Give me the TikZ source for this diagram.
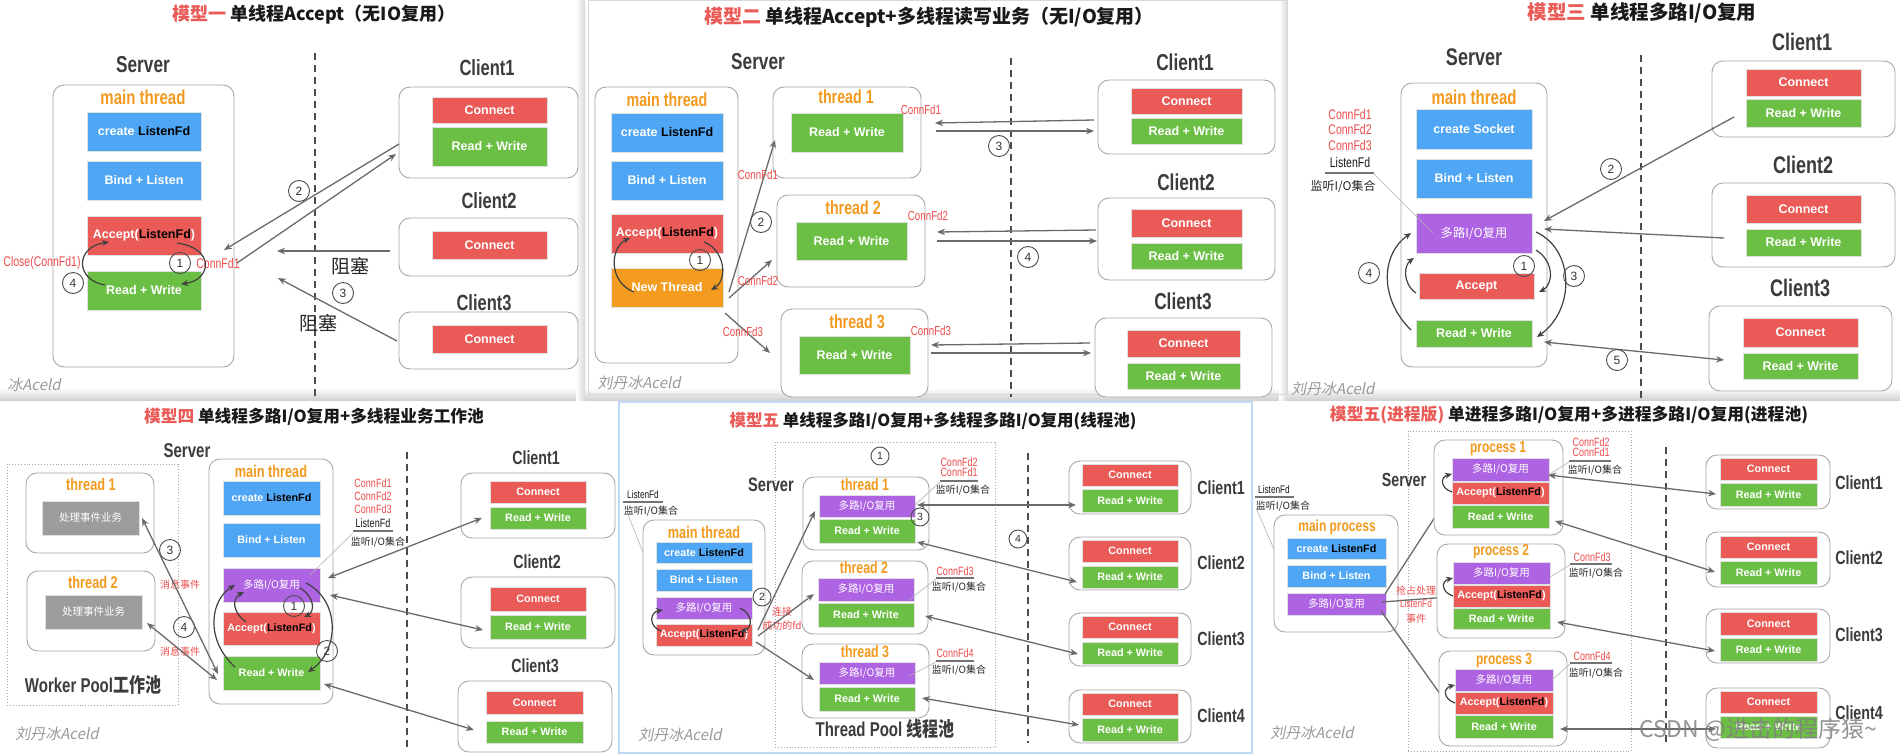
\documentclass[tikz,border=0pt]{standalone}
\usepackage{fontspec}
\setmainfont{Liberation Sans}
\newfontfamily\cjk{Noto Sans CJK SC}
\newfontfamily\cond[FakeStretch=0.75]{Liberation Sans}
\newfontfamily\cjkc[FakeStretch=0.8]{Noto Sans CJK SC}
\newfontfamily\wmf[FakeSlant=0.2]{Noto Sans CJK SC}
\usetikzlibrary{arrows.meta}
\definecolor{cblue}{HTML}{4FA6F4}
\definecolor{cred}{HTML}{EA5B57}
\definecolor{cgreen}{HTML}{6BBF45}
\definecolor{cpurple}{HTML}{AE63E3}
\definecolor{corange}{HTML}{F39C1F}
\definecolor{ctor}{HTML}{F39A1E}
\definecolor{cgray}{HTML}{9C9C9C}
\definecolor{cdark}{HTML}{3C3C3C}
\definecolor{clr}{HTML}{EE4B4B}
\definecolor{cpb}{HTML}{BFD9F7}
\definecolor{carrow}{HTML}{6A6A6A}
\newcommand\fsz[1]{\fontsize{#1}{#1}\selectfont}
\newcommand\rbox[7]{\node[#6,minimum width={(#4)-(#2)},minimum height={(#5)-(#3)}] (#1) at ({((#2)+(#4))/2},{((#3)+(#5))/2}) {#7};}
\newcounter{cn}
\newcommand\cnx[3]{\stepcounter{cn}\coordinate (a\arabic{cn}) at (#2);\coordinate (b\arabic{cn}) at (#3);\draw[#1] (a\arabic{cn}) -- (b\arabic{cn});}
\newcommand\cvx[5]{\stepcounter{cn}\coordinate (a\arabic{cn}) at (#2);\coordinate (b\arabic{cn}) at (#5);\draw[#1] (a\arabic{cn}) .. controls (#3) and (#4) .. (b\arabic{cn});}
\tikzset{
 panel/.style={draw=none,fill=white,inner sep=0pt,outer sep=0pt},
 cont/.style={draw=black!35,fill=white,rounded corners=11,line width=0.9,inner sep=0pt,outer sep=0pt},
 dotbox/.style={draw=black!35,dotted,line width=0.9,inner sep=0pt,outer sep=0pt},
 bx/.style={draw=black!12,line width=0.8,inner sep=0pt,outer sep=0pt,text=white},
 bxb/.style={bx,fill=cblue},
 bxr/.style={bx,fill=cred},
 bxg/.style={bx,fill=cgreen},
 bxp/.style={bx,fill=cpurple},
 bxo/.style={bx,fill=corange},
 bxgy/.style={bx,fill=cgray},
 s1/.style={font=\bfseries\fsz{12.5}},
 s2/.style={font=\bfseries\fsz{10.8}},
 cs1/.style={font=\cjk\fsz{12.3}},
 cs2/.style={font=\cjk\fsz{10.5}},
 lab/.style={font=\cond\bfseries\fsz{#1},text=cdark,inner sep=0pt},
 mt/.style={font=\cond\bfseries\fsz{#1},text=ctor,inner sep=0pt},
 rl/.style={font=\cond\fsz{#1},text=clr,inner sep=0pt},
 bl/.style={font=\cond\fsz{#1},text=black!90,inner sep=0pt},
 cl/.style={font=\cjk\fsz{#1},text=black!85,inner sep=0pt},
 crl/.style={font=\cjk\fsz{#1},text=clr,inner sep=0pt},
 ttl/.style={font=\cjk\bfseries\fsz{#1},text=black!90,inner sep=0pt},
 wm/.style={font=\wmf\fsz{15},text=black!40,inner sep=0pt},
 num/.style={circle,draw=black!70,line width=0.9,minimum size=21pt,inner sep=0pt,font=\fsz{12},text=black!80},
 numsm/.style={circle,draw=black!70,line width=0.9,minimum size=18pt,inner sep=0pt,font=\fsz{10.5},text=black!80},
 arr/.style={draw=carrow,line width=1.3,-{Stealth[length=8pt,width=6.5pt]}},
 darr/.style={draw=carrow,line width=1.3,{Stealth[length=8pt,width=6.5pt]}-{Stealth[length=8pt,width=6.5pt]}},
 curv/.style={draw=black!75,line width=1.2,-{Stealth[length=7pt,width=6pt]}},
 lead/.style={draw=black!30,line width=0.6},
 ul/.style={draw=black!55,line width=1.1},
 dl/.style={draw=black!70,line width=1.2,dash pattern=on 7pt off 5pt}
}
\begin{document}
\begin{tikzpicture}[x=1pt,y=-1pt]
\useasboundingbox (0,0) rectangle (1900,753);
\fill[white] (0,0) rectangle (1900,753);
\shade[top color=white,bottom color=black!18] (0,388) rectangle (1900,400);
\shade[left color=white,right color=black!16] (576,0) rectangle (585,400);
\shade[left color=white,right color=black!14] (1279,0) rectangle (1287,400);
\draw[black!15,line width=0.8] (588,0) rectangle (1287,394);
\rbox{pan5}{619}{402}{1252}{753}{panel,draw=cpb,line width=2}{}
\draw[cpb,line width=2] (1252,402) -- (1252,753);

% ================= PANEL 1
\node[ttl=18] (t1) at (314,15) {\textcolor{cred}{模型一} 单线程Accept（无IO复用）};
\node[lab=23] (p1srv) at (143,65) {Server};
\rbox{p1main}{53}{85}{234}{367}{cont}{}
\node[mt=20] (p1mt) at (143,97) {main thread};
\rbox{p1cr}{87}{112}{201}{151}{bxb,s1}{create \textcolor{black}{ListenFd}}
\rbox{p1bl}{87}{161}{201}{200}{bxb,s1}{Bind + Listen}
\rbox{p1ac}{87}{216}{201}{255}{bxr,s1}{Accept(\textcolor{black}{ListenFd})}
\rbox{p1rw}{87}{271}{201}{310}{bxg,s1}{Read + Write}
\node[num] (p1n1) at (180,263) {1};
\node[rl=14] (p1cf) at (218,263) {ConnFd1};
\node[rl=14] (p1cl) at (42,263) {Close(ConnFd1)};
\node[num] (p1n4) at (73,283) {4};
\cvx{curv}{177,243}{215,248}{212,280}{181,284}
\cvx{curv}{105,285}{75,280}{75,247}{109,242}
\draw[dl] (315,53) -- (315,398);
\node[lab=22] (p1c1l) at (487,68) {Client1};
\rbox{p1c1}{399}{87}{578}{178}{cont}{}
\rbox{p1c1a}{432}{97}{547}{123}{bxr,s1}{Connect}
\rbox{p1c1b}{432}{127}{547}{166}{bxg,s1}{Read + Write}
\node[lab=22] (p1c2l) at (489,201) {Client2};
\rbox{p1c2}{399}{218}{578}{276}{cont}{}
\rbox{p1c2a}{432}{231}{547}{259}{bxr,s1}{Connect}
\node[lab=22] (p1c3l) at (484,303) {Client3};
\rbox{p1c3}{399}{312}{578}{369}{cont}{}
\rbox{p1c3a}{432}{325}{547}{353}{bxr,s1}{Connect}
\cnx{arr}{399,144}{224,250}
\cnx{arr}{237,263}{396,154}
\node[num] (p1n2) at (299,191) {2};
\cnx{arr}{390,251}{277,251}
\node[cl=19] (p1zs1) at (350,266) {阻塞};
\cnx{arr}{397,341}{278,278}
\node[num] (p1n3) at (343,293) {3};
\node[cl=19] (p1zs2) at (318,323) {阻塞};
\node[wm] (p1wm) at (34,385) {冰Aceld};

% ================= PANEL 2
\node[ttl=19] (t2) at (929,17) {\textcolor{cred}{模型二} 单线程Accept+多线程读写业务（无I/O复用）};
\node[lab=23] (p2srv) at (758,62) {Server};
\rbox{p2main}{595}{87}{738}{363}{cont}{}
\node[mt=19] (p2mt) at (667,100) {main thread};
\rbox{p2cr}{611}{113}{723}{152}{bxb,s1}{create \textcolor{black}{ListenFd}}
\rbox{p2bl}{611}{161}{723}{200}{bxb,s1}{Bind + Listen}
\rbox{p2ac}{611}{214}{723}{253}{bxr,s1}{Accept(\textcolor{black}{ListenFd})}
\rbox{p2nt}{611}{268}{723}{307}{bxo,s1}{New Thread}
\node[num] (p2n1) at (700,260) {1};
\cvx{curv}{704,242}{725,250}{728,280}{711,290}
\cvx{curv}{634,292}{608,282}{610,247}{630,238}
\rbox{p2t1}{773}{87}{921}{178}{cont}{}
\node[mt=19] (p2t1l) at (846,97) {thread 1};
\rbox{p2t1rw}{791}{113}{903}{152}{bxg,s1}{Read + Write}
\node[rl=13] (p2t1c) at (921,110) {ConnFd1};
\rbox{p2t2}{777}{195}{925}{287}{cont}{}
\node[mt=19] (p2t2l) at (853,208) {thread 2};
\rbox{p2t2rw}{796}{222}{907}{260}{bxg,s1}{Read + Write}
\node[rl=13] (p2t2c) at (928,216) {ConnFd2};
\rbox{p2t3}{781}{309}{928}{397}{cont}{}
\node[mt=19] (p2t3l) at (857,322) {thread 3};
\rbox{p2t3rw}{799}{336}{910}{374}{bxg,s1}{Read + Write}
\node[rl=13] (p2t3c) at (931,331) {ConnFd3};
\cnx{arr}{729,292}{775,140}
\cnx{arr}{729,298}{772,260}
\cnx{arr}{725,313}{770,353}
\node[rl=13] (p2f1) at (758,175) {ConnFd1};
\node[num] (p2n2) at (761,222) {2};
\node[rl=13] (p2f2) at (758,281) {ConnFd2};
\node[rl=13] (p2f3) at (743,332) {ConnFd3};
\draw[dl] (1011,58) -- (1011,397);
\node[lab=23] (p2c1l) at (1185,62) {Client1};
\rbox{p2c1}{1098}{80}{1275}{154}{cont}{}
\rbox{p2c1a}{1131}{88}{1242}{114}{bxr,s1}{Connect}
\rbox{p2c1b}{1131}{118}{1242}{144}{bxg,s1}{Read + Write}
\node[lab=23] (p2c2l) at (1186,182) {Client2};
\rbox{p2c2}{1098}{198}{1275}{280}{cont}{}
\rbox{p2c2a}{1131}{209}{1242}{237}{bxr,s1}{Connect}
\rbox{p2c2b}{1131}{243}{1242}{269}{bxg,s1}{Read + Write}
\node[lab=23] (p2c3l) at (1183,301) {Client3};
\rbox{p2c3}{1095}{318}{1272}{397}{cont}{}
\rbox{p2c3a}{1127}{330}{1240}{357}{bxr,s1}{Connect}
\rbox{p2c3b}{1127}{363}{1240}{389}{bxg,s1}{Read + Write}
\cnx{arr}{1094,120}{935,123}
\cnx{arr}{936,131}{1094,131}
\node[num] (p2n3) at (999,146) {3};
\cnx{arr}{1096,230}{937,232}
\cnx{arr}{937,241}{1097,241}
\node[num] (p2n4) at (1028,257) {4};
\cnx{arr}{1090,343}{931,345}
\cnx{arr}{931,353}{1091,353}
\node[wm] (p2wm) at (639,383) {刘丹冰Aceld};

% ================= PANEL 3
\node[ttl=19.5] (t3) at (1642,13) {\textcolor{cred}{模型三} 单线程多路I/O复用};
\node[lab=24] (p3srv) at (1474,57) {Server};
\rbox{p3main}{1401}{83}{1547}{367}{cont}{}
\node[mt=20] (p3mt) at (1474,97) {main thread};
\rbox{p3cr}{1416}{109}{1532}{149}{bxb,s1}{create Socket}
\rbox{p3bl}{1416}{159}{1532}{198}{bxb,s1}{Bind + Listen}
\rbox{p3mx}{1416}{213}{1532}{253}{bxp,cs1}{多路I/O复用}
\rbox{p3ac}{1419}{273}{1534}{299}{bxr,s1}{Accept}
\rbox{p3rw}{1416}{320}{1532}{347}{bxg,s1}{Read + Write}
\node[rl=14] (p3f1) at (1350,114) {ConnFd1};
\node[rl=14] (p3f2) at (1350,129) {ConnFd2};
\node[rl=14] (p3f3) at (1350,145) {ConnFd3};
\node[bl=14] (p3lf) at (1350,162) {ListenFd};
\draw[ul] (1325,173) -- (1374,173);
\node[cl=12] (p3jt) at (1343,187) {监听I/O集合};
\draw[lead] (1374,174) -- (1433,233);
\cvx{curv}{1411,330}{1380,300}{1380,255}{1411,233}
\node[num] (p3n4) at (1369,273) {4};
\cvx{curv}{1416,293}{1402,283}{1404,265}{1414,258}
\cvx{curv}{1536,250}{1555,262}{1553,285}{1539,292}
\node[num] (p3n1) at (1524,266) {1};
\cvx{curv}{1536,232}{1575,250}{1575,310}{1537,337}
\node[num] (p3n3) at (1574,276) {3};
\draw[dl] (1641,55) -- (1641,398);
\node[lab=24] (p3c1l) at (1802,42) {Client1};
\rbox{p3c1}{1712}{61}{1895}{137}{cont}{}
\rbox{p3c1a}{1746}{69}{1861}{96}{bxr,s1}{Connect}
\rbox{p3c1b}{1746}{99}{1861}{127}{bxg,s1}{Read + Write}
\node[lab=24] (p3c2l) at (1803,165) {Client2};
\rbox{p3c2}{1712}{183}{1895}{267}{cont}{}
\rbox{p3c2a}{1746}{195}{1861}{223}{bxr,s1}{Connect}
\rbox{p3c2b}{1746}{229}{1861}{256}{bxg,s1}{Read + Write}
\node[lab=24] (p3c3l) at (1800,288) {Client3};
\rbox{p3c3}{1709}{306}{1892}{391}{cont}{}
\rbox{p3c3a}{1743}{318}{1858}{347}{bxr,s1}{Connect}
\rbox{p3c3b}{1743}{353}{1858}{379}{bxg,s1}{Read + Write}
\cnx{arr}{1734,117}{1544,221}
\node[num] (p3n2) at (1611,169) {2};
\cnx{arr}{1724,238}{1544,229}
\cnx{darr}{1544,342}{1724,360}
\node[num] (p3n5) at (1617,360) {5};
\node[wm,anchor=west] (p3wm) at (1291,389) {刘丹冰Aceld};

% ================= PANEL 4
\node[ttl=16.7] (t4) at (314,417) {\textcolor{cred}{模型四} 单线程多路I/O复用+多线程业务工作池};
\node[lab=20] (p4srv) at (187,451) {Server};
\rbox{p4wp}{7}{464}{178}{705}{dotbox}{}
\rbox{p4t1}{26}{473}{154}{553}{cont}{}
\node[mt=17] (p4t1l) at (91,484) {thread 1};
\rbox{p4t1g}{42}{501}{139}{535}{bxgy,cs2}{处理事件业务}
\rbox{p4t2}{27}{571}{155}{651}{cont}{}
\node[mt=17] (p4t2l) at (93,582) {thread 2};
\rbox{p4t2g}{45}{595}{142}{629}{bxgy,cs2}{处理事件业务}
\node[text=cdark,inner sep=0pt] (p4wpl) at (93,685) {{\cond\bfseries\fsz{20}Worker Pool}{\cjkc\bfseries\fsz{20}工作池}};
\rbox{p4main}{209}{459}{333}{704}{cont}{}
\node[mt=17] (p4mt) at (271,471) {main thread};
\rbox{p4cr}{223}{481}{320}{515}{bxb,s2}{create \textcolor{black}{ListenFd}}
\rbox{p4bl}{223}{523}{320}{557}{bxb,s2}{Bind + Listen}
\rbox{p4mx}{223}{568}{320}{602}{bxp,cs2}{多路I/O复用}
\rbox{p4ac}{223}{612}{320}{645}{bxr,s2}{Accept(\textcolor{black}{ListenFd})}
\rbox{p4rw}{223}{656}{320}{690}{bxg,s2}{Read + Write}
\node[rl=12] (p4f1) at (373,483) {ConnFd1};
\node[rl=12] (p4f2) at (373,496) {ConnFd2};
\node[rl=12] (p4f3) at (373,509) {ConnFd3};
\node[bl=12] (p4lf) at (373,523) {ListenFd};
\draw[ul] (353,531) -- (393,531);
\node[cl=10] (p4jt) at (378,542) {监听I/O集合};
\draw[lead] (353,533) -- (310,575);
\node[num] (p4n1) at (294,606) {1};
\node[num] (p4n2) at (327,651) {2};
\node[num] (p4n3) at (170,550) {3};
\node[num] (p4n4) at (184,627) {4};
\node[crl=10] (p4x1) at (180,585) {消息事件};
\node[crl=10] (p4x2) at (180,652) {消息事件};
\cnx{darr}{142,518}{218,674}
\cnx{darr}{147,623}{217,680}
\cvx{curv}{235,667}{205,640}{210,600}{235,585}
\cvx{curv}{246,622}{232,612}{232,598}{244,592}
\cvx{curv}{300,588}{315,597}{315,612}{304,617}
\cvx{curv}{306,583}{340,600}{340,650}{308,672}
\draw[dl] (407,452) -- (407,748);
\node[lab=19] (p4c1l) at (536,458) {Client1};
\rbox{p4c1}{461}{473}{615}{538}{cont}{}
\rbox{p4c1a}{490}{481}{586}{503}{bxr,s2}{Connect}
\rbox{p4c1b}{490}{507}{586}{529}{bxg,s2}{Read + Write}
\node[lab=19] (p4c2l) at (537,562) {Client2};
\rbox{p4c2}{461}{577}{615}{648}{cont}{}
\rbox{p4c2a}{490}{587}{586}{611}{bxr,s2}{Connect}
\rbox{p4c2b}{490}{615}{586}{639}{bxg,s2}{Read + Write}
\node[lab=19] (p4c3l) at (535,666) {Client3};
\rbox{p4c3}{458}{681}{612}{752}{cont}{}
\rbox{p4c3a}{486}{691}{583}{714}{bxr,s2}{Connect}
\rbox{p4c3b}{486}{721}{583}{743}{bxg,s2}{Read + Write}
\cnx{darr}{328,578}{482,518}
\cnx{darr}{330,595}{483,630}
\cnx{darr}{324,684}{474,730}
\node[wm] (p4wm) at (57,734) {刘丹冰Aceld};

% ================= PANEL 5
\node[ttl=16.5] (t5) at (933,421) {\textcolor{cred}{模型五} 单线程多路I/O复用+多线程多路I/O复用(线程池)};
\rbox{p5tp}{775}{442}{995}{747}{dotbox}{}
\node[numsm] (p5n1) at (880,456) {1};
\node[lab=19.5] (p5srv) at (771,485) {Server};
\node[bl=11] (p5lf) at (643,495) {ListenFd};
\draw[ul] (623,502) -- (663,502);
\node[cl=10] (p5jt) at (651,511) {监听I/O集合};
\draw[lead] (627,512) -- (663,603);
\rbox{p5main}{643}{520}{765}{655}{cont}{}
\node[mt=17] (p5mt) at (704,532) {main thread};
\rbox{p5cr}{656}{542}{752}{563}{bxb,s2}{create \textcolor{black}{ListenFd}}
\rbox{p5bl}{656}{569}{752}{591}{bxb,s2}{Bind + Listen}
\rbox{p5mx}{656}{597}{752}{619}{bxp,cs2}{多路I/O复用}
\rbox{p5ac}{656}{624}{752}{646}{bxr,s2}{Accept(\textcolor{black}{ListenFd})}
\cvx{curv}{661,631}{648,626}{650,612}{663,610}
\cvx{curv}{740,608}{753,614}{753,628}{740,632}
\node[numsm] (p5n2) at (762,597) {2};
\node[crl=10] (p5lj1) at (782,612) {连接};
\node[crl=10] (p5lj2) at (782,626) {成功的fd};
\rbox{p5t1}{803}{477}{929}{550}{cont}{}
\node[mt=16.5] (p5t1l) at (865,485) {thread 1};
\rbox{p5t1m}{819}{495}{915}{517}{bxp,cs2}{多路I/O复用}
\rbox{p5t1rw}{819}{519}{915}{543}{bxg,s2}{Read + Write}
\rbox{p5t2}{802}{561}{928}{634}{cont}{}
\node[mt=16.5] (p5t2l) at (864,568) {thread 2};
\rbox{p5t2m}{818}{578}{914}{601}{bxp,cs2}{多路I/O复用}
\rbox{p5t2rw}{818}{603}{914}{627}{bxg,s2}{Read + Write}
\rbox{p5t3}{802}{644}{929}{718}{cont}{}
\node[mt=16.5] (p5t3l) at (865,652) {thread 3};
\rbox{p5t3m}{819}{662}{915}{684}{bxp,cs2}{多路I/O复用}
\rbox{p5t3rw}{819}{687}{915}{711}{bxg,s2}{Read + Write}
\cnx{arr}{758,630}{815,511}
\cnx{arr}{758,636}{814,594}
\cnx{arr}{756,642}{814,680}
\node[numsm] (p5n3) at (920,517) {3};
\node[rl=12] (p5a1) at (959,462) {ConnFd2};
\node[rl=12] (p5a2) at (959,472) {ConnFd1};
\draw[ul] (940,481) -- (978,481);
\node[cl=10] (p5a3) at (963,490) {监听I/O集合};
\draw[lead] (940,482) -- (915,505);
\node[rl=12] (p5b1) at (955,571) {ConnFd3};
\draw[ul] (936,578) -- (974,578);
\node[cl=10] (p5b3) at (959,587) {监听I/O集合};
\draw[lead] (936,579) -- (909,600);
\node[rl=12] (p5c1) at (955,653) {ConnFd4};
\draw[ul] (936,661) -- (974,661);
\node[cl=10] (p5c3) at (959,670) {监听I/O集合};
\draw[lead] (936,662) -- (909,676);
\draw[dl] (1028,453) -- (1028,743);
\node[numsm] (p5n4) at (1018,539) {4};
\rbox{p5c1}{1069}{461}{1191}{514}{cont}{}
\rbox{p5c1a}{1082}{464}{1178}{486}{bxr,s2}{Connect}
\rbox{p5c1b}{1082}{489}{1178}{512}{bxg,s2}{Read + Write}
\node[lab=19] (p5c1l) at (1221,488) {Client1};
\rbox{p5c2}{1069}{537}{1191}{590}{cont}{}
\rbox{p5c2a}{1082}{540}{1178}{562}{bxr,s2}{Connect}
\rbox{p5c2b}{1082}{566}{1178}{588}{bxg,s2}{Read + Write}
\node[lab=19] (p5c2l) at (1221,563) {Client2};
\rbox{p5c3}{1069}{613}{1191}{666}{cont}{}
\rbox{p5c3a}{1082}{616}{1178}{638}{bxr,s2}{Connect}
\rbox{p5c3b}{1082}{642}{1178}{664}{bxg,s2}{Read + Write}
\node[lab=19] (p5c3l) at (1221,639) {Client3};
\rbox{p5c4}{1069}{690}{1191}{743}{cont}{}
\rbox{p5c4a}{1082}{693}{1178}{715}{bxr,s2}{Connect}
\rbox{p5c4b}{1082}{718}{1178}{741}{bxg,s2}{Read + Write}
\node[lab=19] (p5c4l) at (1221,716) {Client4};
\cnx{darr}{917,505}{1076,505}
\cnx{darr}{917,542}{1077,582}
\cnx{darr}{925,616}{1078,654}
\cnx{darr}{922,698}{1079,725}
\node[text=cdark,inner sep=0pt] (p5tpl) at (885,729) {{\cond\bfseries\fsz{20}Thread Pool }{\cjkc\bfseries\fsz{20}线程池}};
\node[wm] (p5wm) at (680,735) {刘丹冰Aceld};

% ================= PANEL 6
\node[ttl=16.8] (t6) at (1569,415) {\textcolor{cred}{模型五(进程版)} 单进程多路I/O复用+多进程多路I/O复用(进程池)};
\rbox{p6pp}{1408}{431}{1631}{751}{dotbox}{}
\node[lab=19] (p6srv) at (1404,480) {Server};
\node[bl=11] (p6lf) at (1274,490) {ListenFd};
\draw[ul] (1255,497) -- (1294,497);
\node[cl=10] (p6jt) at (1283,506) {监听I/O集合};
\draw[lead] (1257,510) -- (1295,598);
\rbox{p6main}{1274}{515}{1398}{632}{cont}{}
\node[mt=16] (p6mt) at (1337,527) {main process};
\rbox{p6cr}{1287}{538}{1386}{559}{bxb,s2}{create \textcolor{black}{ListenFd}}
\rbox{p6bl}{1287}{565}{1386}{587}{bxb,s2}{Bind + Listen}
\rbox{p6mx}{1287}{593}{1386}{615}{bxp,cs2}{多路I/O复用}
\cnx{arr}{1385,594}{1448,497}
\cnx{arr}{1382,602}{1448,597}
\cnx{arr}{1381,611}{1448,705}
\node[crl=10] (p6q1) at (1416,591) {抢占处理};
\node[rl=11] (p6q2) at (1416,604) {ListenFd};
\node[crl=10] (p6q3) at (1416,619) {事件};
\rbox{p6p1}{1434}{440}{1563}{535}{cont}{}
\node[mt=16] (p6p1l) at (1498,449) {process 1};
\rbox{p6p1m}{1452}{458}{1549}{481}{bxp,cs2}{多路I/O复用}
\rbox{p6p1a}{1452}{482}{1549}{504}{bxr,s2}{Accept(\textcolor{black}{ListenFd})}
\rbox{p6p1r}{1452}{505}{1549}{528}{bxg,s2}{Read + Write}
\rbox{p6p2}{1437}{544}{1565}{638}{cont}{}
\node[mt=16] (p6p2l) at (1501,552) {process 2};
\rbox{p6p2m}{1453}{562}{1550}{584}{bxp,cs2}{多路I/O复用}
\rbox{p6p2a}{1453}{585}{1550}{607}{bxr,s2}{Accept(\textcolor{black}{ListenFd})}
\rbox{p6p2r}{1453}{608}{1550}{629}{bxg,s2}{Read + Write}
\rbox{p6p3}{1439}{651}{1567}{746}{cont}{}
\node[mt=16] (p6p3l) at (1504,661) {process 3};
\rbox{p6p3m}{1455}{669}{1553}{691}{bxp,cs2}{多路I/O复用}
\rbox{p6p3a}{1455}{692}{1553}{714}{bxr,s2}{Accept(\textcolor{black}{ListenFd})}
\rbox{p6p3r}{1455}{715}{1553}{738}{bxg,s2}{Read + Write}
\cvx{curv}{1452,492}{1440,488}{1440,477}{1452,474}
\cvx{curv}{1453,596}{1441,592}{1441,581}{1453,578}
\cvx{curv}{1455,703}{1443,699}{1443,688}{1455,685}
\node[rl=12] (p6a1) at (1591,442) {ConnFd2};
\node[rl=12] (p6a2) at (1591,452) {ConnFd1};
\draw[ul] (1569,461) -- (1611,461);
\node[cl=10] (p6a3) at (1595,470) {监听I/O集合};
\draw[lead] (1569,462) -- (1548,475);
\node[rl=12] (p6b1) at (1592,557) {ConnFd3};
\draw[ul] (1570,564) -- (1612,564);
\node[cl=10] (p6b3) at (1596,573) {监听I/O集合};
\draw[lead] (1570,565) -- (1550,577);
\node[rl=12] (p6c1) at (1592,656) {ConnFd4};
\draw[ul] (1570,663) -- (1612,663);
\node[cl=10] (p6c3) at (1596,673) {监听I/O集合};
\draw[lead] (1570,664) -- (1552,680);
\draw[dl] (1666,447) -- (1666,743);
\rbox{p6c1}{1706}{455}{1830}{509}{cont}{}
\rbox{p6c1a}{1720}{458}{1817}{480}{bxr,s2}{Connect}
\rbox{p6c1b}{1720}{483}{1817}{506}{bxg,s2}{Read + Write}
\node[lab=19] (p6c1l) at (1859,483) {Client1};
\rbox{p6c2}{1706}{532}{1830}{587}{cont}{}
\rbox{p6c2a}{1720}{536}{1817}{558}{bxr,s2}{Connect}
\rbox{p6c2b}{1720}{561}{1817}{584}{bxg,s2}{Read + Write}
\node[lab=19] (p6c2l) at (1859,558) {Client2};
\rbox{p6c3}{1706}{609}{1830}{663}{cont}{}
\rbox{p6c3a}{1720}{612}{1817}{635}{bxr,s2}{Connect}
\rbox{p6c3b}{1720}{638}{1817}{661}{bxg,s2}{Read + Write}
\node[lab=19] (p6c3l) at (1859,635) {Client3};
\rbox{p6c4}{1706}{688}{1830}{748}{cont}{}
\rbox{p6c4a}{1720}{691}{1817}{713}{bxr,s2}{Connect}
\rbox{p6c4b}{1720}{716}{1817}{738}{bxg,s2}{Read + Write}
\node[lab=19] (p6c4l) at (1859,713) {Client4};
\cnx{darr}{1548,475}{1716,494}
\cnx{darr}{1555,521}{1715,572}
\cnx{darr}{1557,622}{1715,651}
\cnx{darr}{1560,729}{1716,729}
\node[wm] (p6wm) at (1312,733) {刘丹冰Aceld};
\node[font=\cjk\fsz{23},text=black!50,text opacity=0.85,inner sep=0pt] (csdn) at (1758,730) {CSDN @进击的程序猿\textasciitilde};
\end{tikzpicture}
\end{document}
